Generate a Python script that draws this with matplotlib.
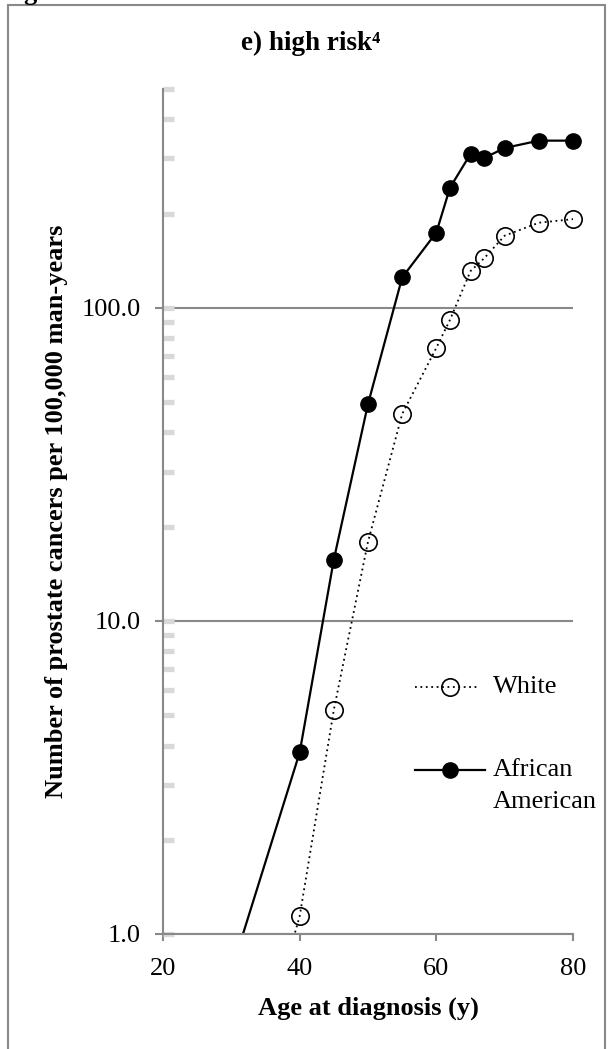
import matplotlib
matplotlib.use("Agg")
import matplotlib.pyplot as plt
from matplotlib.ticker import FixedLocator, FuncFormatter, NullFormatter
from matplotlib.patches import Rectangle
from matplotlib.lines import Line2D

plt.rcParams['font.family'] = ['Liberation Serif', 'DejaVu Serif']

# incidence per 100,000 man-years, high risk
age_white = [35, 40, 45, 50, 55, 60, 62, 65, 67, 70, 75, 80]
rate_white = [0.47, 1.14, 5.2, 17.9, 45.8, 74.5, 91.6, 131, 144, 170, 187, 192]
age_aa = [30, 40, 45, 50, 55, 60, 62, 65, 67, 70, 75, 80]
rate_aa = [0.76, 3.8, 15.7, 49.3, 125, 174, 242, 310, 301, 324, 342, 342]

x_ticks = [20, 40, 60, 80]
y_major = [1, 10, 100]
y_minor = [k * 10 ** e for e in (0, 1, 2) for k in range(1, 10) if k * 10 ** e <= 500]

W, H = 608, 1049
fs = 19
grey = '#898989'

fig = plt.figure(figsize=(W / 100, H / 100), dpi=100)
ax = fig.add_axes([163 / W, 1 - 934 / H, 410 / W, 845 / H])

# clip only below/left so end markers at x=80 stay whole
clip = Rectangle((0, 0), 1.2, 1.2, transform=ax.transAxes)

l1, = ax.plot(age_white, rate_white, color='black', lw=1.3, ls=(0, (1, 2)),
              marker='o', ms=12.5, mfc='none', mec='black', mew=1.2)
l2, = ax.plot(age_aa, rate_aa, color='black', lw=1.6, ls='-',
              marker='o', ms=11, mfc='black', mec='black')
for ln in (l1, l2):
    ln.set_clip_path(clip)

ax.set_yscale('log')
ax.set_xlim(20, 80)
ax.set_ylim(1, 500)
ax.set_xticks(x_ticks)
ax.yaxis.set_major_locator(FixedLocator(y_major))
ax.yaxis.set_minor_locator(FixedLocator(y_minor))
ax.yaxis.remove_overlapping_locs = False
ax.yaxis.set_major_formatter(FuncFormatter(lambda v, p: f'{v:.1f}'))
ax.yaxis.set_minor_formatter(NullFormatter())

for s in ('top', 'right'):
    ax.spines[s].set_visible(False)
for s in ('left', 'bottom'):
    ax.spines[s].set_color(grey)
    ax.spines[s].set_linewidth(1.5)

ax.yaxis.grid(True, which='major', color=grey, lw=1.5)
ax.tick_params(axis='both', which='major', direction='out', color=grey,
               width=1.5, labelsize=fs, right=False, top=False)
ax.tick_params(axis='y', which='major', length=6, pad=10)
ax.tick_params(axis='x', which='major', length=5, pad=12)
ax.tick_params(axis='y', which='minor', direction='in', length=8, width=3.8,
               color='#d9d9d9', right=False)

ax.set_xlabel('Age at diagnosis (y)', fontsize=fs, fontweight='bold', labelpad=12)
ax.set_ylabel('Number of prostate cancers per 100,000 man-years', fontsize=fs,
              fontweight='bold', labelpad=10)

# legend
ax.add_line(Line2D([0.615, 0.700, 0.773], [0.292] * 3, transform=ax.transAxes,
                   color='black', lw=1.3, ls=(0, (1, 2)), marker='o', markevery=[1],
                   ms=12.5, mfc='none', mec='black', mew=1.2))
ax.text(0.805, 0.292, 'White', transform=ax.transAxes, fontsize=fs, va='center')
ax.add_line(Line2D([0.615, 0.700, 0.785], [0.194] * 3, transform=ax.transAxes,
                   color='black', lw=1.6, marker='o', markevery=[1], ms=11))
ax.text(0.805, 0.194, 'African', transform=ax.transAxes, fontsize=fs, va='center')
ax.text(0.805, 0.156, 'American', transform=ax.transAxes, fontsize=fs, va='center')

fig.text(311 / W, 1 - 43 / H, 'e) high risk\u2074', fontsize=19.5, fontweight='bold',
         ha='center', va='center')
fig.text(23 / W, 1.0, 'g', fontsize=fs, fontweight='bold', va='baseline')

# outer frame
frame = Rectangle((8 / W, -0.01), (605 - 8) / W, 1 - 5 / H + 0.01,
                  transform=fig.transFigure, fill=False, edgecolor=grey, lw=1.5)
fig.patches.append(frame)

fig.savefig('out.png', dpi=100)
